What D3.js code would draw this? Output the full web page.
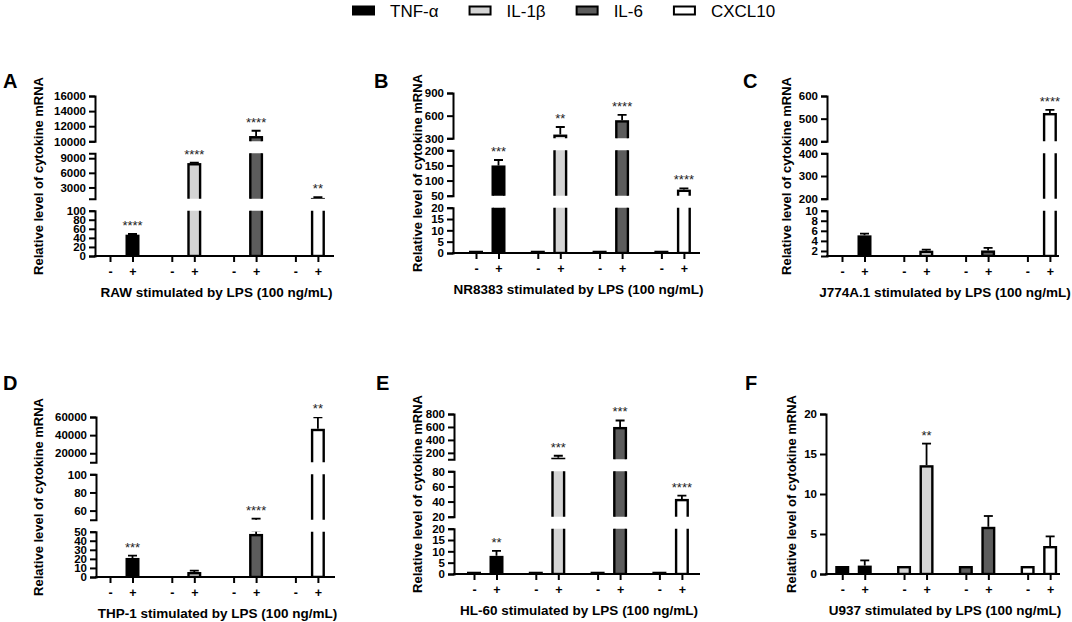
<!DOCTYPE html>
<html>
<head>
<meta charset="utf-8">
<script src="https://cdn.jsdelivr.net/npm/d3@7"></script>
<style>
body { margin: 0; background: #fff; }
text { font-family: "Liberation Sans", Arial, sans-serif; }
</style>
</head>
<body>
<div id="chart"></div>
<script>
var cytokines = ["TNF-α", "IL-1β", "IL-6", "CXCL10"];
var treatments = ["-", "+"];
var colors = ["#000000", "#d4d4d4", "#5c5c5c", "#ffffff"];

// A - RAW
var rawCtrl = [1, 1, 1, 1];
var rawLps = [47, 8000, 10700, 850];
var rawSD = [1.5, 100, 700, 150];
var rawStars = ["****", "****", "****", "**"];
var rawBreaks = [[0, 100], [700, 10000], [10000, 16000]];
var rawTicks = [[0, 20, 40, 60, 80, 100], [3000, 6000, 9000], [10000, 12000, 14000, 16000]];

// B - NR8383
var nrCtrl = [1, 1, 1, 1];
var nrLps = [150, 350, 540, 70];
var nrSD = [18, 100, 70, 4];
var nrStars = ["***", "**", "****", "****"];
var nrBreaks = [[0, 20], [50, 200], [300, 900]];
var nrTicks = [[0, 5, 10, 15, 20], [50, 100, 150, 200], [300, 600, 900]];

// C - J774A.1
var jCtrl = [1, 1, 1, 1];
var jLps = [5.1, 2.05, 2.1, 525];
var jSD = [0.35, 0.2, 0.5, 14];
var jStars = ["", "", "", "****"];
var jBreaks = [[1, 10], [200, 400], [400, 600]];
var jTicks = [[2, 4, 6, 8, 10], [200, 300, 400], [400, 500, 600]];

// D - THP-1
var thpCtrl = [1, 1, 1, 1];
var thpLps = [21, 5.5, 47.5, 47000];
var thpSD = [2.5, 1.5, 3.5, 12500];
var thpStars = ["***", "", "****", "**"];
var thpBreaks = [[0, 50], [50, 100], [10000, 60000]];
var thpTicks = [[0, 10, 20, 30, 40, 50], [60, 80, 100], [20000, 40000, 60000]];

// E - HL-60
var hlCtrl = [1, 1, 1, 1];
var hlLps = [8, 125, 600, 43.5];
var hlSD = [2.2, 30, 100, 4.3];
var hlStars = ["**", "***", "***", "****"];
var hlBreaks = [[0, 20], [20, 80], [100, 800]];
var hlTicks = [[0, 5, 10, 15, 20], [20, 40, 60, 80], [200, 400, 600, 800]];

// F - U937
var uCtrl = [1, 1, 1, 1];
var uLps = [1.05, 13.6, 5.9, 3.5];
var uSD = [0.65, 2.7, 1.35, 1.2];
var uStars = ["", "**", "", ""];
var uBreaks = [[0, 20]];
var uTicks = [[0, 5, 10, 15, 20]];

var panels = [
    {letter: "A", cell: "RAW", ctrl: rawCtrl, lps: rawLps, sd: rawSD, stars: rawStars, breaks: rawBreaks, ticks: rawTicks},
    {letter: "B", cell: "NR8383", ctrl: nrCtrl, lps: nrLps, sd: nrSD, stars: nrStars, breaks: nrBreaks, ticks: nrTicks},
    {letter: "C", cell: "J774A.1", ctrl: jCtrl, lps: jLps, sd: jSD, stars: jStars, breaks: jBreaks, ticks: jTicks},
    {letter: "D", cell: "THP-1", ctrl: thpCtrl, lps: thpLps, sd: thpSD, stars: thpStars, breaks: thpBreaks, ticks: thpTicks},
    {letter: "E", cell: "HL-60", ctrl: hlCtrl, lps: hlLps, sd: hlSD, stars: hlStars, breaks: hlBreaks, ticks: hlTicks},
    {letter: "F", cell: "U937", ctrl: uCtrl, lps: uLps, sd: uSD, stars: uStars, breaks: uBreaks, ticks: uTicks}
];

// where each panel sits on the page
var layout = [
    {x0: 95,  x1: 334,  bottom: 256, off: 3.75,  labelX: 38,  letterX: 3,   letterY: 88},
    {x0: 453, x1: 700,  bottom: 253, off: 11.75, labelX: 417, letterX: 374, letterY: 88},
    {x0: 827, x1: 1059, bottom: 256, off: 3.75,  labelX: 786, letterX: 743, letterY: 88},
    {x0: 96,  x1: 335,  bottom: 577, off: 2.75,  labelX: 38,  letterX: 3,   letterY: 390},
    {x0: 454, x1: 700,  bottom: 574, off: 8.75,  labelX: 417, letterX: 376, letterY: 390},
    {x0: 826, x1: 1060, bottom: 574, off: 5,     labelX: 791, letterX: 745, letterY: 390}
];

var width = 1072, height = 622;
var plotH = 160, gap = 12, groupStep = 61.8, barW = 14, sw = 2.4;

var svg = d3.select("#chart")
            .append("svg")
                .attr("width", width)
                .attr("height", height);

// legend
var lx = 352;
cytokines.forEach(function(c, i) {
    svg.append("rect")
        .attr("x", lx + 1).attr("y", 6.5)
        .attr("width", 21).attr("height", 8)
        .attr("fill", colors[i])
        .attr("stroke", "#000")
        .attr("stroke-width", 2);
    var t = svg.append("text")
        .attr("x", lx + 38).attr("y", 11)
        .attr("dominant-baseline", "central")
        .attr("font-size", 17)
        .text(c);
    lx = lx + 38 + t.node().getComputedTextLength() + 30;
});

panels.forEach(function(p, pi) {
    var L = layout[pi];
    var g = svg.append("g");
    var n = p.breaks.length;
    var segH = (plotH - gap * (n - 1)) / n;
    var base = p.breaks[0][0];

    var segs = p.breaks.map(function(b, i) {
        var yb = L.bottom - i * (segH + gap);
        return {
            scale: d3.scaleLinear().domain(b).range([yb, yb - segH]),
            ticks: p.ticks[i],
            top: yb - segH,
            bot: yb
        };
    });

    var xGroup = d3.scaleBand()
                    .domain(cytokines)
                    .range([L.x0 + L.off, L.x0 + L.off + 4 * groupStep]);
    var xSub = d3.scaleBand()
                    .domain(treatments)
                    .range([0, 45]);
    function cx(c, t) { return xGroup(c) + xSub(t) + xSub.bandwidth() / 2; }

    var bars = [];
    cytokines.forEach(function(c, i) {
        bars.push({c: c, t: "-", v: p.ctrl[i], sd: 0, color: colors[i], star: ""});
        bars.push({c: c, t: "+", v: p.lps[i], sd: p.sd[i], color: colors[i], star: p.stars[i]});
    });

    // bars too short to show above the axis are left out (as in the original)
    var shown = bars.filter(function(d) {
        return segs[0].scale(base) - segs[0].scale(d.v) >= 1.5;
    });

    // bars + error bars, one clipped copy per axis segment
    segs.forEach(function(s, si) {
        var id = "clip" + pi + "_" + si;
        svg.append("clipPath").attr("id", id)
            .append("rect")
                .attr("x", L.x0).attr("y", s.top)
                .attr("width", L.x1 - L.x0 + 10)
                .attr("height", s.bot - s.top);
        var sg = g.append("g").attr("clip-path", "url(#" + id + ")");

        sg.selectAll("rect")
            .data(shown)
            .join("rect")
                .attr("x", function(d) { return cx(d.c, d.t) - barW / 2 + sw / 2; })
                .attr("y", function(d) { return s.scale(d.v) + sw / 2; })
                .attr("width", barW - sw)
                .attr("height", function(d) { return Math.max(0, s.scale(base) - s.scale(d.v) - sw / 2); })
                .attr("fill", function(d) { return d.color; })
                .attr("stroke", "#000")
                .attr("stroke-width", sw);

        var eb = shown.filter(function(d) { return d.sd > 0; });
        sg.selectAll("line.err")
            .data(eb)
            .join("line")
                .attr("class", "err")
                .attr("x1", function(d) { return cx(d.c, d.t); })
                .attr("x2", function(d) { return cx(d.c, d.t); })
                .attr("y1", function(d) { return s.scale(d.v); })
                .attr("y2", function(d) { return s.scale(d.v + d.sd); })
                .attr("stroke", "#000")
                .attr("stroke-width", 1.8);
        sg.selectAll("line.cap")
            .data(eb)
            .join("line")
                .attr("class", "cap")
                .attr("x1", function(d) { return cx(d.c, d.t) - 4.5; })
                .attr("x2", function(d) { return cx(d.c, d.t) + 4.5; })
                .attr("y1", function(d) { return s.scale(d.v + d.sd); })
                .attr("y2", function(d) { return s.scale(d.v + d.sd); })
                .attr("stroke", "#000")
                .attr("stroke-width", 1.8);

        // y axis piece
        var ax = g.append("g")
            .attr("transform", "translate(" + L.x0 + ",0)")
            .call(d3.axisLeft(s.scale)
                .tickValues(s.ticks)
                .tickSize(6)
                .tickSizeOuter(6)
                .tickFormat(d3.format("d")));
        ax.attr("font-family", null).attr("font-size", null);
        ax.selectAll("path, line").attr("stroke-width", 2);
        ax.selectAll("text")
            .attr("font-size", 11.5)
            .attr("font-weight", "bold")
            .attr("fill", "#000");
    });

    // significance stars
    bars.filter(function(d) { return d.star; }).forEach(function(d) {
        var topV = d.v + d.sd;
        var s = segs[0];
        segs.forEach(function(sx) { if (topV >= sx.scale.domain()[0]) s = sx; });
        g.append("text")
            .attr("x", cx(d.c, d.t))
            .attr("y", s.scale(topV) - 4)
            .attr("text-anchor", "middle")
            .attr("font-size", 13)
            .attr("fill", "#222")
            .text(d.star);
    });

    // x axis
    var keys = [], pos = [];
    cytokines.forEach(function(c) {
        treatments.forEach(function(t) { keys.push(c + "|" + t); pos.push(cx(c, t)); });
    });
    var xPos = d3.scaleOrdinal().domain(keys).range(pos);
    var xa = g.append("g")
        .attr("transform", "translate(0," + L.bottom + ")")
        .call(d3.axisBottom(xPos)
            .tickSize(6)
            .tickPadding(5)
            .tickFormat(function(k) { return k.split("|")[1]; }));
    xa.select(".domain").remove();
    xa.attr("font-family", null).attr("font-size", null);
    xa.selectAll("line").attr("stroke-width", 2);
    xa.selectAll("text")
        .attr("font-size", 12.5)
        .attr("font-weight", "bold")
        .attr("fill", "#000");
    g.append("line")
        .attr("x1", L.x0 - 1).attr("x2", L.x1)
        .attr("y1", L.bottom).attr("y2", L.bottom)
        .attr("stroke", "#000")
        .attr("stroke-width", 2);

    // labels
    g.append("text")
        .attr("x", (L.x0 + L.x1) / 2 + 2)
        .attr("y", L.bottom + 36)
        .attr("text-anchor", "middle")
        .attr("dominant-baseline", "central")
        .attr("font-size", 13.5)
        .attr("font-weight", "bold")
        .text(p.cell + " stimulated by LPS (100 ng/mL)");

    g.append("text")
        .attr("transform", "translate(" + L.labelX + "," + (L.bottom - plotH / 2) + ") rotate(-90)")
        .attr("text-anchor", "middle")
        .attr("dominant-baseline", "central")
        .attr("font-size", 13)
        .attr("font-weight", "bold")
        .text("Relative level of cytokine mRNA");

    g.append("text")
        .attr("x", L.letterX)
        .attr("y", L.letterY)
        .attr("font-size", 20)
        .attr("font-weight", "bold")
        .text(p.letter);
});
</script>
</body>
</html>
